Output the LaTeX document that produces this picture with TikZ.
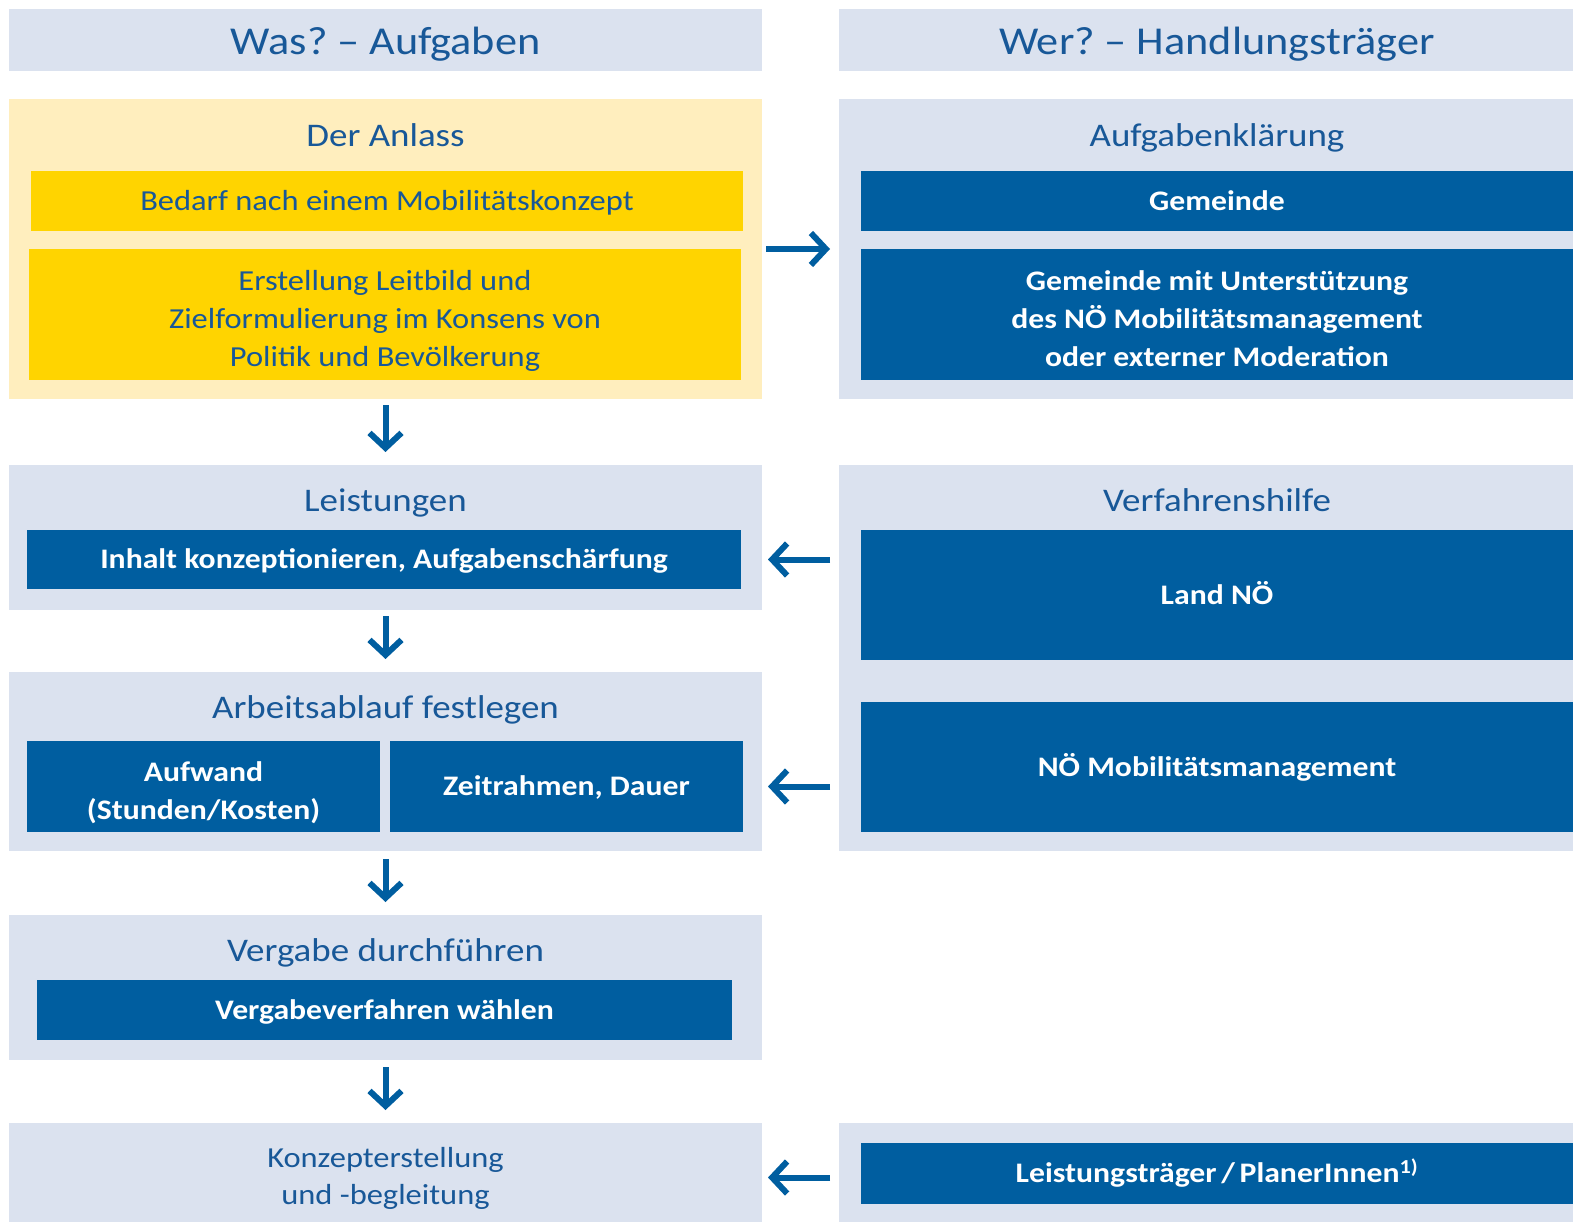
\documentclass[tikz,border=0pt]{standalone}
\usepackage{fontspec}
\setmainfont{Carlito}[FakeStretch=1.12]
\frenchspacing
\usetikzlibrary{arrows.meta}

\definecolor{panelblue}{RGB}{219,226,239}
\definecolor{paleyellow}{RGB}{255,238,190}
\definecolor{boxyellow}{RGB}{255,212,0}
\definecolor{boxblue}{RGB}{0,94,160}
\definecolor{txtblue}{RGB}{24,88,152}

\tikzstyle{panel} = [rectangle, fill=panelblue, inner sep=0pt, outer sep=0pt, minimum width=753pt]
\tikzstyle{rpanel} = [panel, minimum width=756pt]
\tikzstyle{headline} = [anchor=base, text=txtblue, font=\fontsize{39.5}{48}\selectfont]
\tikzstyle{title} = [anchor=base, text=txtblue, font=\fontsize{33}{40}\selectfont]
\tikzstyle{yellowbox} = [rectangle, fill=boxyellow, text=txtblue, align=center, inner sep=0pt, outer sep=0pt,
  font=\fontsize{29}{37.5}\selectfont, text depth=0pt]
\tikzstyle{bluebox} = [rectangle, fill=boxblue, text=white, align=center, inner sep=0pt, outer sep=0pt,
  font=\bfseries\fontsize{28.3}{38}\selectfont, text depth=0pt]
\tikzstyle{oneline} = [text height=18.5pt]
\tikzstyle{twolines} = [text height=66pt]
\tikzstyle{threelines} = [text height=103pt]
\tikzstyle{arrow} = [draw=boxblue, line width=6pt, -{Straight Barb[length=15pt,width=32pt]}]

\begin{document}
\begin{tikzpicture}[x=1pt, y=-1pt]
\clip (0,0) rectangle (1573,1222);

% column heads
\node (wasHead) [panel, minimum height=62pt] at (385.5,40) {};
\node (werHead) [rpanel, minimum height=62pt] at (1217,40) {};
\node [headline] at (385.5,55) {Was? – Aufgaben};
\node [headline] at (1217,55) {Wer? – Handlungsträger};

% left column
\node (anlass) [panel, fill=paleyellow, minimum height=300pt] at (385.5,249) {};
\node [title] at (385.5,146.5) {Der Anlass};
\node (bedarf) [yellowbox, oneline, minimum width=712pt, minimum height=60pt] at (387,201) {Bedarf nach einem Mobilitätskonzept};
\node (leitbild) [yellowbox, threelines, minimum width=712pt, minimum height=131pt] at (385,314.5)
  {Erstellung Leitbild und\\Zielformulierung im Konsens von\\Politik und Bevölkerung};

\node (leist) [panel, minimum height=145pt] at (385.5,537.5) {};
\node [title] at (385.5,511) {Leistungen};
\node (inhalt) [bluebox, oneline, minimum width=714pt, minimum height=59pt] at (384,559.5) {Inhalt konzeptionieren, Aufgabenschärfung};

\node (arbeit) [panel, minimum height=179pt] at (385.5,761.5) {};
\node [title] at (385.5,718) {Arbeitsablauf festlegen};
\node (aufwand) [bluebox, twolines, minimum width=353pt, minimum height=91pt] at (203.5,786.5) {Aufwand\\(Stunden/Kosten)};
\node (zeit) [bluebox, oneline, minimum width=353pt, minimum height=91pt] at (566.5,786.5) {Zeitrahmen, Dauer};

\node (vergabe) [panel, minimum height=145pt] at (385.5,987.5) {};
\node [title] at (385.5,961) {Vergabe durchführen};
\node (wahl) [bluebox, oneline, minimum width=695pt, minimum height=60pt] at (384.5,1010) {Vergabeverfahren wählen};

\node (konzept) [panel, minimum height=109pt] at (385.5,1177.5) {};
\node (konzText) [align=center, text=txtblue, font=\fontsize{29}{37}\selectfont, text depth=0pt] at (385.5,1175.5) {Konzepterstellung\\und -begleitung};

% right column
\node (klaer) [rpanel, minimum height=300pt] at (1217,249) {};
\node [title] at (1217,146.5) {Aufgabenklärung};
\node (gemeinde) [bluebox, oneline, minimum width=712pt, minimum height=60pt] at (1217,201) {Gemeinde};
\node (unterst) [bluebox, threelines, minimum width=712pt, minimum height=131pt] at (1217,314.5)
  {Gemeinde mit Unterstützung\\des NÖ Mobilitätsmanagement\\oder externer Moderation};

\node (verf) [rpanel, minimum height=386pt] at (1217,658) {};
\node [title] at (1217,511) {Verfahrenshilfe};
\node (land) [bluebox, oneline, minimum width=712pt, minimum height=130pt] at (1217,595) {Land NÖ};
\node (noemm) [bluebox, oneline, minimum width=712pt, minimum height=130pt] at (1217,767) {NÖ Mobilitätsmanagement};

\node (traeger) [rpanel, minimum height=109pt] at (1217,1177.5) {};
\node (planer) [bluebox, oneline, minimum width=712pt, minimum height=61pt] at (1217,1173.5)
  {Leistungsträger\,/\,PlanerInnen\textsuperscript{1)}};

% connectors
\draw [arrow, shorten <=4pt, shorten >=9pt] (anlass.east) -- (klaer.west);
\draw [arrow, shorten <=9pt, shorten >=6pt] (verf.west |- inhalt.east) -- (leist.east |- inhalt.east);
\draw [arrow, shorten <=9pt, shorten >=6pt] (verf.west |- zeit.east) -- (arbeit.east |- zeit.east);
\draw [arrow, shorten <=9pt, shorten >=6pt] (traeger.west) -- (konzept.east);

\draw [arrow, shorten <=6pt, shorten >=13pt] (anlass.south) -- (leist.north);
\draw [arrow, shorten <=6pt, shorten >=13pt] (leist.south) -- (arbeit.north);
\draw [arrow, shorten <=8pt, shorten >=13pt] (arbeit.south) -- (vergabe.north);
\draw [arrow, shorten <=7pt, shorten >=13pt] (vergabe.south) -- (konzept.north);

\end{tikzpicture}
\end{document}
